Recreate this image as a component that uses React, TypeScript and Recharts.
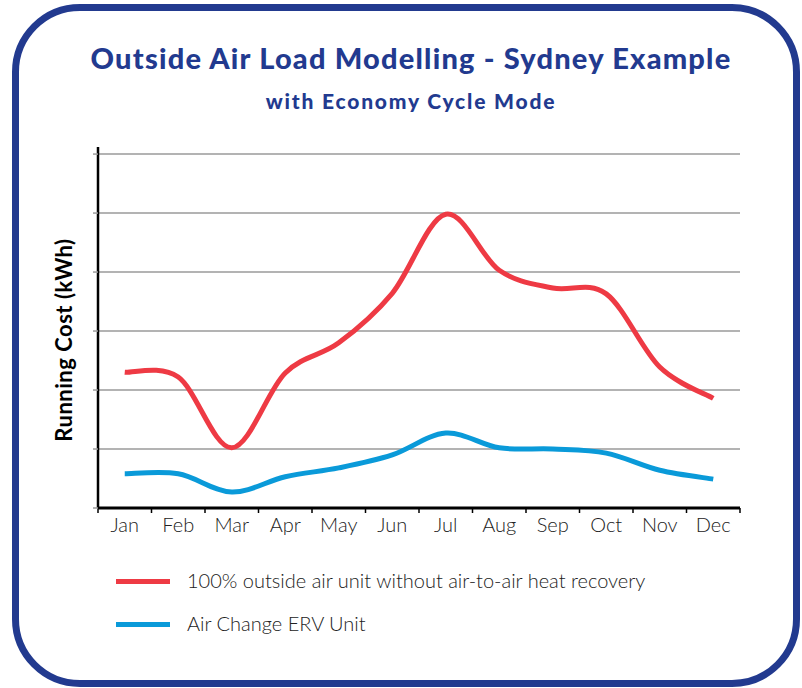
import { LineChart, Line, XAxis, YAxis, CartesianGrid } from 'recharts';

const MONTHS = ['Jan', 'Feb', 'Mar', 'Apr', 'May', 'Jun', 'Jul', 'Aug', 'Sep', 'Oct', 'Nov', 'Dec'];
const FRESH_AIR = [2.3, 2.22, 1.02, 2.29, 2.8, 3.64, 4.98, 4.03, 3.73, 3.63, 2.39, 1.86];
const ERV_UNIT = [0.58, 0.58, 0.27, 0.53, 0.68, 0.9, 1.27, 1.02, 1.0, 0.93, 0.64, 0.49];
const Y_TICKS = [0, 1, 2, 3, 4, 5, 6];
const X_TICKS = [0, 1, 2, 3, 4, 5, 6, 7, 8, 9, 10, 11, 12];

const NAVY = '#223a8f';
const RED = '#ee3a44';
const BLUE = '#0a9ad9';

const data = MONTHS.map((m, i) => ({ x: i + 0.5, month: m, fresh: FRESH_AIR[i], erv: ERV_UNIT[i] }));

const W = 802;
const H = 688;
const PLOT_LEFT = 98;
const PLOT_RIGHT = 740;
const BAND = (PLOT_RIGHT - PLOT_LEFT) / MONTHS.length;

// catmull-rom style smoothing, passes through every point
const smoothCurve = (context: any) => {
    let pts: number[][] = [];
    return {
        areaStart() {},
        areaEnd() {},
        lineStart() { pts = []; },
        point(x: number, y: number) { pts.push([+x, +y]); },
        lineEnd() {
            const n = pts.length;
            if (!n) return;
            context.moveTo(pts[0][0], pts[0][1]);
            for (let i = 0; i < n - 1; i++) {
                const p0 = pts[Math.max(i - 1, 0)];
                const p1 = pts[i];
                const p2 = pts[i + 1];
                const p3 = pts[Math.min(i + 2, n - 1)];
                context.bezierCurveTo(
                    p1[0] + (p2[0] - p0[0]) / 6, p1[1] + (p2[1] - p0[1]) / 6,
                    p2[0] - (p3[0] - p1[0]) / 6, p2[1] - (p3[1] - p1[1]) / 6,
                    p2[0], p2[1]
                );
            }
        },
    };
};

const MonthTick = (props: any) => {
    const { x, y, payload } = props;
    const label = MONTHS[payload.value];
    if (!label) return null;
    return (
        <text x={x + BAND / 2} y={y} dy={17} textAnchor="middle" fill="#222" fontSize={20} fontWeight={300} fontFamily="Lato, sans-serif">
            {label}
        </text>
    );
};

const NoTick = () => null;

export default function App() {
    return (
        <div style={{ position: 'absolute', left: 0, top: 0, width: W, height: H, background: '#fff', fontFamily: 'Lato, sans-serif' }}>
            <div style={{ position: 'absolute', left: 12, top: 4, width: 788 - 14, height: 683 - 14, border: `7px solid ${NAVY}`, borderRadius: 68 }} />
            <div style={{ position: 'absolute', left: 0, top: 40, width: 822, textAlign: 'center', color: NAVY, fontSize: 29, fontWeight: 900, letterSpacing: 1.2, lineHeight: '36px' }}>
                Outside Air Load Modelling - Sydney Example
            </div>
            <div style={{ position: 'absolute', left: 0, top: 88, width: 822, textAlign: 'center', color: NAVY, fontSize: 21, fontWeight: 900, letterSpacing: 1.8, lineHeight: '26px' }}>
                with Economy Cycle Mode
            </div>
            <div style={{ position: 'absolute', left: 63, top: 340, transform: 'translate(-50%, -50%) rotate(-90deg)', whiteSpace: 'nowrap', fontSize: 22, fontWeight: 700, letterSpacing: 0.5, color: '#000' }}>
                Running Cost (kWh)
            </div>
            <div style={{ position: 'absolute', left: 0, top: 0 }}>
                <LineChart width={W} height={H} data={data} margin={{ top: 147, right: W - PLOT_RIGHT, bottom: 150, left: PLOT_LEFT - 5 }}>
                    <CartesianGrid vertical={false} syncWithTicks stroke="#9a9a9a" strokeWidth={1.5} />
                    <XAxis
                        type="number"
                        dataKey="x"
                        domain={[0, 12]}
                        ticks={X_TICKS}
                        interval={0}
                        height={30}
                        axisLine={{ stroke: '#000', strokeWidth: 3 }}
                        tickLine={{ stroke: '#000', strokeWidth: 1.5 }}
                        tickSize={5}
                        tick={<MonthTick />}
                    />
                    <YAxis
                        type="number"
                        domain={[0, 6.12]}
                        ticks={Y_TICKS}
                        interval={0}
                        width={5}
                        tick={<NoTick />}
                        tickSize={5}
                        axisLine={{ stroke: '#000', strokeWidth: 2.5 }}
                        tickLine={{ stroke: '#9a9a9a', strokeWidth: 1.5 }}
                    />
                    <Line type={smoothCurve as any} dataKey="fresh" stroke={RED} strokeWidth={5} dot={false} isAnimationActive={false} />
                    <Line type={smoothCurve as any} dataKey="erv" stroke={BLUE} strokeWidth={5} dot={false} isAnimationActive={false} />
                </LineChart>
            </div>
            <div style={{ position: 'absolute', left: 116, top: 579, width: 54, height: 5, background: RED }} />
            <div style={{ position: 'absolute', left: 187, top: 568, fontSize: 20, fontWeight: 300, color: '#222', lineHeight: '24px' }}>
                100% outside air unit without air-to-air heat recovery
            </div>
            <div style={{ position: 'absolute', left: 116, top: 622, width: 54, height: 5, background: BLUE }} />
            <div style={{ position: 'absolute', left: 187, top: 611, fontSize: 20, fontWeight: 300, color: '#222', lineHeight: '24px' }}>
                Air Change ERV Unit
            </div>
        </div>
    );
}
